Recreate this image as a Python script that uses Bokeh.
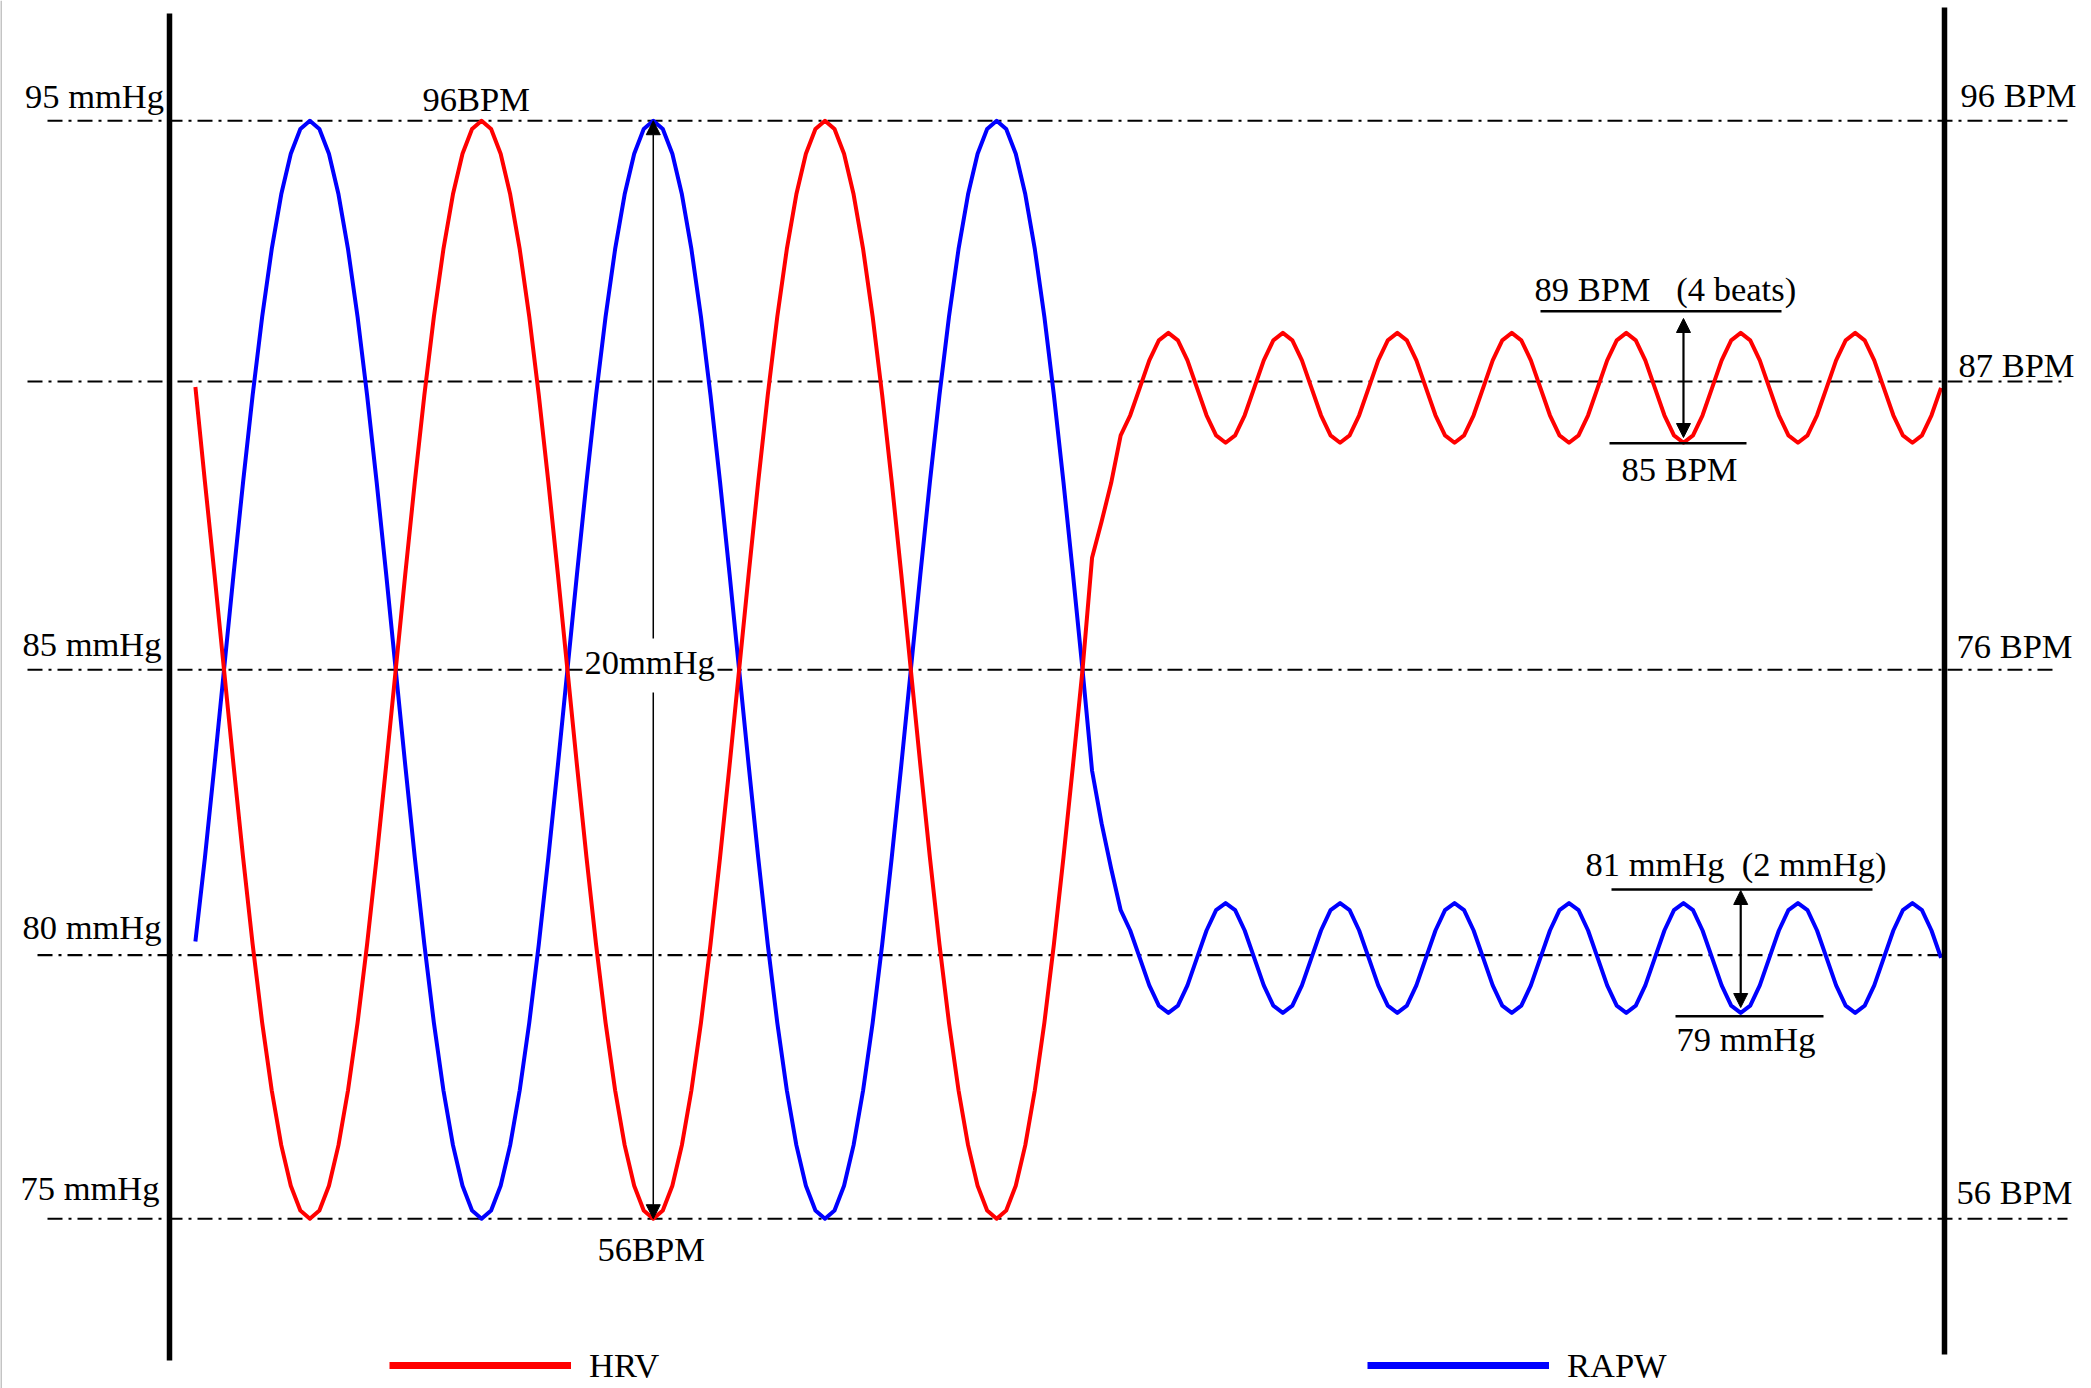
import numpy as np
from bokeh.plotting import figure
from bokeh.models import (Range1d, Label, Arrow, NormalHead, ColumnDataSource,
                          Legend, LegendItem, Span)
from bokeh.embed import file_html
from bokeh.resources import INLINE

# ---------------- data ----------------
# RAPW, mmHg, one value per sample
rapw_mmHg = [
    80.05, 81.58, 83.26, 85.00, 86.74, 88.42, 90.00, 91.43, 92.66, 93.66, 94.40, 94.85,
    95.00, 94.85, 94.40, 93.66, 92.66, 91.43, 90.00, 88.42, 86.74, 85.00, 83.26, 81.58,
    80.00, 78.57, 77.34, 76.34, 75.60, 75.15, 75.00, 75.15, 75.60, 76.34, 77.34, 78.57,
    80.00, 81.58, 83.26, 85.00, 86.74, 88.42, 90.00, 91.43, 92.66, 93.66, 94.40, 94.85,
    95.00, 94.85, 94.40, 93.66, 92.66, 91.43, 90.00, 88.42, 86.74, 85.00, 83.26, 81.58,
    80.00, 78.57, 77.34, 76.34, 75.60, 75.15, 75.00, 75.15, 75.60, 76.34, 77.34, 78.57,
    80.00, 81.58, 83.26, 85.00, 86.74, 88.42, 90.00, 91.43, 92.66, 93.66, 94.40, 94.85,
    95.00, 94.85, 94.40, 93.66, 92.66, 91.43, 90.00, 88.42, 86.74, 85.00, 83.16, 82.20,
    81.38, 80.62, 80.25, 79.75, 79.25, 78.88, 78.75, 78.88, 79.25, 79.75, 80.25, 80.62,
    80.75, 80.62, 80.25, 79.75, 79.25, 78.88, 78.75, 78.88, 79.25, 79.75, 80.25, 80.62,
    80.75, 80.62, 80.25, 79.75, 79.25, 78.88, 78.75, 78.88, 79.25, 79.75, 80.25, 80.62,
    80.75, 80.62, 80.25, 79.75, 79.25, 78.88, 78.75, 78.88, 79.25, 79.75, 80.25, 80.62,
    80.75, 80.62, 80.25, 79.75, 79.25, 78.88, 78.75, 78.88, 79.25, 79.75, 80.25, 80.62,
    80.75, 80.62, 80.25, 79.75, 79.25, 78.88, 78.75, 78.88, 79.25, 79.75, 80.25, 80.62,
    80.75, 80.62, 80.25, 79.75, 79.25, 78.88, 78.75, 78.88, 79.25, 79.75, 80.25, 80.62,
    80.75, 80.62, 80.25, 79.75,
]

# HRV, BPM, one value per sample
hrv_bpm = [
    86.30, 82.84, 79.48, 76.00, 72.52, 69.16, 66.00, 63.14, 60.68, 58.68, 57.20, 56.30,
    56.00, 56.30, 57.20, 58.68, 60.68, 63.14, 66.00, 69.16, 72.52, 76.00, 79.48, 82.84,
    86.00, 88.86, 91.32, 93.32, 94.80, 95.70, 96.00, 95.70, 94.80, 93.32, 91.32, 88.86,
    86.00, 82.84, 79.48, 76.00, 72.52, 69.16, 66.00, 63.14, 60.68, 58.68, 57.20, 56.30,
    56.00, 56.30, 57.20, 58.68, 60.68, 63.14, 66.00, 69.16, 72.52, 76.00, 79.48, 82.84,
    86.00, 88.86, 91.32, 93.32, 94.80, 95.70, 96.00, 95.70, 94.80, 93.32, 91.32, 88.86,
    86.00, 82.84, 79.48, 76.00, 72.52, 69.16, 66.00, 63.14, 60.68, 58.68, 57.20, 56.30,
    56.00, 56.30, 57.20, 58.68, 60.68, 63.14, 66.00, 69.16, 72.52, 76.00, 80.08, 81.40,
    82.80, 84.54, 85.27, 86.27, 87.27, 88.00, 88.27, 88.00, 87.27, 86.27, 85.27, 84.54,
    84.27, 84.54, 85.27, 86.27, 87.27, 88.00, 88.27, 88.00, 87.27, 86.27, 85.27, 84.54,
    84.27, 84.54, 85.27, 86.27, 87.27, 88.00, 88.27, 88.00, 87.27, 86.27, 85.27, 84.54,
    84.27, 84.54, 85.27, 86.27, 87.27, 88.00, 88.27, 88.00, 87.27, 86.27, 85.27, 84.54,
    84.27, 84.54, 85.27, 86.27, 87.27, 88.00, 88.27, 88.00, 87.27, 86.27, 85.27, 84.54,
    84.27, 84.54, 85.27, 86.27, 87.27, 88.00, 88.27, 88.00, 87.27, 86.27, 85.27, 84.54,
    84.27, 84.54, 85.27, 86.27, 87.27, 88.00, 88.27, 88.00, 87.27, 86.27, 85.27, 84.54,
    84.27, 84.54, 85.27, 86.27,
]

sample = list(range(len(rapw_mmHg)))

# reference levels (position) and their labels
ref_mmHg = [95, 85, 79.8, 75]
ref_mmHg_labels = ["95 mmHg", "85 mmHg", "80 mmHg", "75 mmHg"]
ref_bpm_right = [96, 86.5, 76, 56]
ref_bpm_right_labels = ["96 BPM", "87 BPM", "76 BPM", "56 BPM"]

series_names = ["HRV", "RAPW"]

# ---------------- layout helpers ----------------
W, H = 2091, 1388
T0_PX = 194.9        # picture x of sample 0
PX_PER_T = 9.539
MM_TOP = 97.19       # mmHg at top of canvas
PX_PER_MM = 54.9
TXT_UP = 12          # baseline correction for rendered text


def wx(px):
    return (px - T0_PX) / PX_PER_T


def wy(py):
    return MM_TOP - py / PX_PER_MM


def bpm_from_mm(v):
    return 56 + 2 * (v - 75)


RED = "#FF0000"
BLUE = "#0000FF"
FONT = "Liberation Serif"
FS = "34.5px"

x_range = Range1d(wx(0), wx(W))
y_range = Range1d(wy(H), wy(0))

p = figure(width=W, height=H, x_range=x_range, y_range=y_range,
           output_backend="svg", toolbar_location=None, min_border=0,
           x_axis_location=None, y_axis_location=None)
p.extra_y_ranges = {"bpm": Range1d(bpm_from_mm(y_range.start), bpm_from_mm(y_range.end))}
p.grid.visible = False
p.outline_line_color = None
p.background_fill_color = "white"
p.border_fill_color = "white"

# thin grey edge on the left of the picture
p.add_layout(Span(location=wx(0.5), dimension="height", line_color="#8a8a8a", line_width=1))

DASH = "15 6 3 6"

# dash-dot reference lines
ref_src = ColumnDataSource(dict(
    y=ref_mmHg,
    x0=[wx(47), wx(27), wx(37), wx(47)],
    x1=[wx(2067), wx(2054), wx(1944), wx(2067)],
))
p.segment(x0="x0", y0="y", x1="x1", y1="y", source=ref_src,
          line_color="black", line_width=2.2, line_dash=DASH)
p.segment(x0=[wx(27)], y0=[ref_bpm_right[1]], x1=[wx(2067)], y1=[ref_bpm_right[1]],
          y_range_name="bpm", line_color="black", line_width=2.2, line_dash=DASH)

# signals
p.line(sample, rapw_mmHg, line_color=BLUE, line_width=4, line_join="round")
p.line(sample, hrv_bpm, y_range_name="bpm", line_color=RED, line_width=4, line_join="round")

# two vertical frame lines
p.segment(x0=[wx(169), wx(1944)], y0=[wy(13), wy(7)],
          x1=[wx(169), wx(1944)], y1=[wy(1360), wy(1354)],
          line_color="black", line_width=5.5)

# annotation bars
p.segment(x0=[wx(1540), wx(1609), wx(1611), wx(1675)],
          y0=[wy(310.7), wy(442.7), wy(889), wy(1015.7)],
          x1=[wx(1781), wx(1746), wx(1872), wx(1823)],
          y1=[wy(310.7), wy(442.7), wy(889), wy(1015.7)],
          line_color="black", line_width=2.5)


def head():
    return NormalHead(size=14, fill_color="black", line_color="black", line_width=1)


# 20 mmHg span arrow (blue peak to red trough at sample 48)
p.add_layout(Arrow(x_start=48, y_start=wy(638), x_end=48, y_end=95,
                   start=None, end=head(), line_color="black", line_width=1.5))
p.add_layout(Arrow(x_start=48, y_start=wy(692), x_end=48, y_end=75,
                   start=None, end=head(), line_color="black", line_width=1.5))
# HRV swing arrow (sample 156) and RAPW swing arrow (sample 162)
p.add_layout(Arrow(x_start=156, y_start=wy(318), x_end=156, y_end=wy(437),
                   start=head(), end=head(), line_color="black", line_width=2.2))
p.add_layout(Arrow(x_start=162, y_start=wy(890), x_end=162, y_end=wy(1007),
                   start=head(), end=head(), line_color="black", line_width=2.2))

# texts
texts = [
    (ref_mmHg_labels[0], 24.5, 107),
    (ref_mmHg_labels[1], 22, 655),
    (ref_mmHg_labels[2], 22, 938),
    (ref_mmHg_labels[3], 20, 1199),
    (ref_bpm_right_labels[0], 1960, 106),
    (ref_bpm_right_labels[1], 1958, 376),
    (ref_bpm_right_labels[2], 1956, 657),
    (ref_bpm_right_labels[3], 1956, 1203),
    ("96BPM", 422, 110),
    ("56BPM", 597, 1260),
    ("89 BPM\u00a0\u00a0\u00a0(4 beats)", 1534, 300),
    ("85 BPM", 1621, 480),
    ("81 mmHg\u00a0\u00a0(2 mmHg)", 1585, 875),
    ("79 mmHg", 1676, 1050),
]
for txt, px, py in texts:
    p.add_layout(Label(x=wx(px), y=wy(py - TXT_UP), text=txt, text_font=FONT,
                       text_font_size=FS, text_color="black",
                       text_align="left", text_baseline="alphabetic"))
# the span label masks the reference line behind it
p.add_layout(Label(x=wx(584), y=wy(673 - TXT_UP), text="20mmHg", text_font=FONT,
                   text_font_size=FS, text_color="black", text_align="left",
                   text_baseline="alphabetic", background_fill_color="white"))

# legend (two separate single-item legends)
hrv_key = p.line(x=np.array([0.0]), y=np.array([np.nan]), line_color=RED, line_width=7)
rapw_key = p.line(x=np.array([0.0]), y=np.array([np.nan]), line_color=BLUE, line_width=7)
for name, rend, loc in [(series_names[0], hrv_key, (389, 3)),
                        (series_names[1], rapw_key, (1367, 3))]:
    lg = Legend(items=[LegendItem(label=name, renderers=[rend])], location=loc,
                orientation="horizontal", glyph_width=182, glyph_height=40,
                label_height=40, label_standoff=18, padding=0, margin=0,
                border_line_color=None, background_fill_alpha=0,
                label_text_font=FONT, label_text_font_size=FS,
                label_text_color="black")
    p.add_layout(lg)

open("out.html", "w").write(file_html(p, INLINE))
